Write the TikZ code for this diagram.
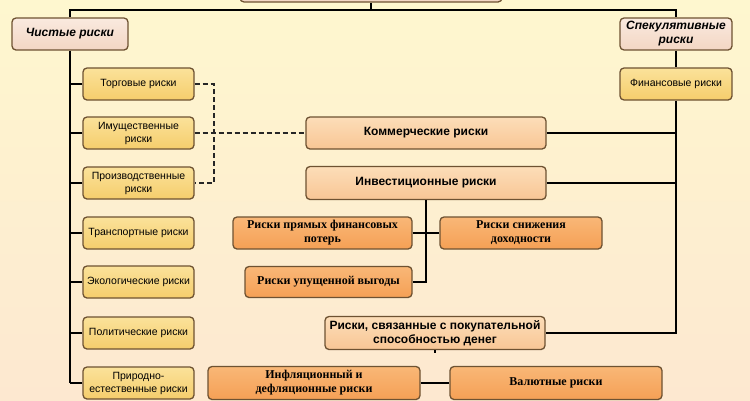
\documentclass[tikz,border=0pt]{standalone}
\usepackage{fontspec}
\setmainfont{Liberation Sans}
\newfontfamily\serifrus{Liberation Serif}
\definecolor{bgtop}{HTML}{FEF7CF}
\definecolor{bgbot}{HTML}{FDE8D0}
\definecolor{edgebrown}{HTML}{6E5232}
\definecolor{yelT}{HTML}{FBE29A}
\definecolor{yelB}{HTML}{F5CD6C}
\definecolor{pinkT}{HTML}{FAEADF}
\definecolor{pinkB}{HTML}{F3D6C3}
\definecolor{peachT}{HTML}{FCDDB8}
\definecolor{peachB}{HTML}{F8C695}
\definecolor{orT}{HTML}{F9B777}
\definecolor{orB}{HTML}{F5A055}
\tikzset{
  basebox/.style={draw=edgebrown, line width=1.3pt, rounded corners=4pt, align=center, inner sep=1pt, text=black},
  pinkbox/.style={basebox, top color=pinkT, bottom color=pinkB, font=\fontsize{12}{14}\selectfont\bfseries\itshape},
  yelbox/.style={basebox, top color=yelT, bottom color=yelB, minimum width=111pt, minimum height=32pt, font=\fontsize{10.5}{13}\selectfont},
  peachbox/.style={basebox, top color=peachT, bottom color=peachB, font=\fontsize{12}{14}\selectfont\bfseries},
  orbox/.style={basebox, top color=orT, bottom color=orB, font=\serifrus\fontsize{12}{14}\selectfont\bfseries},
  conn/.style={draw=black, line width=2.6pt},
  dashconn/.style={draw=black!85, line width=1.9pt, dash pattern=on 5pt off 3pt}
}
\begin{document}
\begin{tikzpicture}[x=1pt,y=-1pt]
\useasboundingbox (0,0) rectangle (750,400);
\clip (0,0) rectangle (750,400);
\shade[top color=bgtop, bottom color=bgbot] (0,0) rectangle (750,400);

% nodes
\node[pinkbox, minimum width=262pt, minimum height=32pt] (top) at (371,-14) {};
\node[pinkbox, minimum width=116pt, minimum height=32pt] (chist) at (70,34) {Чистые риски};
\node[pinkbox, minimum width=112pt, minimum height=32pt] (spek) at (676,34) {Спекулятивные\\риски};
\node[yelbox, minimum width=112pt] (fin) at (676,84) {Финансовые риски};

\node[yelbox] (torg) at (138.5,84) {Торговые риски};
\node[yelbox] (imush) at (138.5,133) {Имущественные\\риски};
\node[yelbox] (proizv) at (138.5,183) {Производственные\\риски};
\node[yelbox] (transp) at (138.5,233) {Транспортные риски};
\node[yelbox] (ekol) at (138.5,282) {Экологические риски};
\node[yelbox] (polit) at (138.5,333) {Политические риски};
\node[yelbox] (prirod) at (138.5,383) {Природно-\\естественные риски};

\node[peachbox, minimum width=240pt, minimum height=32pt] (komm) at (426,133) {Коммерческие риски};
\node[peachbox, minimum width=240pt, minimum height=33pt] (invest) at (426,183) {Инвестиционные риски};
\node[orbox, minimum width=179pt, minimum height=32pt] (pryam) at (322.5,233) {Риски прямых финансовых\\потерь};
\node[orbox, minimum width=162pt, minimum height=32pt] (snizh) at (521,233) {Риски снижения\\доходности};
\node[orbox, minimum width=167pt, minimum height=31pt] (upush) at (328.5,282) {Риски упущенной выгоды};
\node[peachbox, minimum width=220pt, minimum height=33pt] (svyaz) at (435,333) {Риски, связанные с покупательной\\способностью денег};
\node[orbox, minimum width=212pt, minimum height=33pt] (infl) at (314,383) {Инфляционный и\\дефляционные риски};
\node[orbox, minimum width=212pt, minimum height=33pt] (valut) at (556,383) {Валютные риски};

% connectors
\coordinate (topj) at (top.south |- 0,10);
\draw[conn] (top.south) -- (topj);
\draw[conn] (chist.north) |- (topj) -| (spek.north);
\coordinate (trunkend) at (chist.south |- prirod.west);
\draw[conn] (chist.south) -- (trunkend);
\foreach \n in {torg,imush,proizv,transp,ekol,polit,prirod}
  \draw[conn] (\n.west) -- (\n.west -| chist.south);
\draw[conn] (spek.south) -- (fin.north);
\draw[conn] (fin.south) |- (svyaz.east);
\draw[conn] (komm.east) -- (komm.east -| fin.south);
\draw[conn] (invest.east) -- (invest.east -| fin.south);
\draw[conn] (invest.south) |- (upush.east);
\draw[conn] (pryam.east) -- (snizh.west);
\coordinate (svyazend) at ([yshift=30pt]svyaz.south |- infl.east);
\draw[conn] (svyaz.south) -- (svyazend);
\draw[conn] (infl.east) -- (valut.west);
\draw[dashconn] (torg.east) -- ++(19,0) |- (proizv.east);
\draw[dashconn] (imush.east) -- (komm.west);
\end{tikzpicture}
\end{document}
